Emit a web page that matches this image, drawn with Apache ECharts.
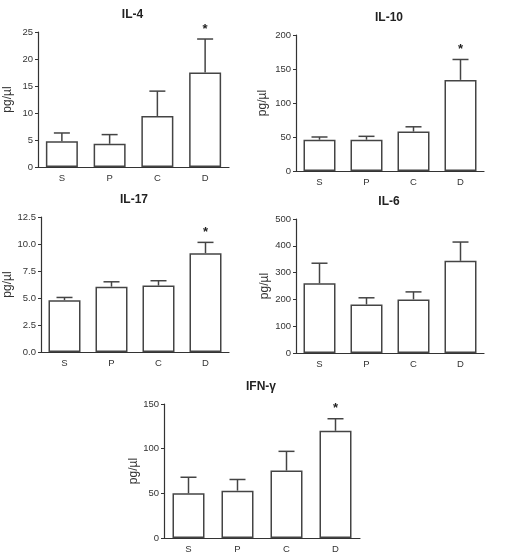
<!DOCTYPE html>
<html>
<head>
<meta charset="utf-8">
<title>Cytokines</title>
<script src="https://cdn.jsdelivr.net/npm/echarts@6/dist/echarts.min.js"></script>
<style>
  html, body { margin: 0; background: #fff; }
  #chart { width: 509px; height: 559px; }
</style>
</head>
<body>
<div id="chart"></div>
<script>
// groups on the x axis
var categories = ["S", "P", "C", "D"];

// mean values and top of error bar (mean + SEM)
var il4Mean = [4.75, 4.3, 9.45, 17.5];
var il4Err = [6.3, 6.0, 14.05, 23.7];
var il10Mean = [46, 46, 58, 134];
var il10Err = [50, 51, 65, 164];
var il17Mean = [4.8, 6.05, 6.15, 9.15];
var il17Err = [5.05, 6.5, 6.6, 10.15];
var il6Mean = [260, 181, 200, 344];
var il6Err = [335, 206, 228, 414];
var ifnMean = [50, 53, 75.5, 120];
var ifnErr = [68, 65.5, 97, 133.5];

// significance marks (*), 1 = marked
var il4Sig = [0, 0, 0, 1];
var il10Sig = [0, 0, 0, 1];
var il17Sig = [0, 0, 0, 1];
var il6Sig = [0, 0, 0, 0];
var ifnSig = [0, 0, 0, 1];

// y axis scales
var panelNames = ["IL-4", "IL-10", "IL-17", "IL-6", "IFN-\u03b3"];
var yMax = [25, 200, 12.5, 500, 150];
var yStep = [5, 50, 2.5, 100, 50];
var yDecimals = [0, 0, 1, 0, 0];

var means = [il4Mean, il10Mean, il17Mean, il6Mean, ifnMean];
var errs = [il4Err, il10Err, il17Err, il6Err, ifnErr];
var sigs = [il4Sig, il10Sig, il17Sig, il6Sig, ifnSig];

// layout of each small plot (px)
var grids = [
  { left: 38, top: 32, width: 191, height: 135 },
  { left: 296, top: 35, width: 188, height: 136 },
  { left: 41, top: 217, width: 188, height: 135 },
  { left: 296, top: 219, width: 188, height: 134 },
  { left: 164, top: 404, width: 196, height: 134 }
];
var nameGaps = [24, 27, 27, 25, 21];

var font = "'Liberation Sans', Arial, sans-serif";
var ink = "#333";

var chart = echarts.init(document.getElementById("chart"));

var titles = [], xAxes = [], yAxes = [], series = [];

grids.forEach(function (g, i) {
  titles.push({
    text: panelNames[i],
    left: g.left + g.width / 2 - 1,
    top: g.top - 23,
    padding: 0,
    textAlign: "center",
    textStyle: { fontFamily: font, fontSize: 12, fontWeight: "bold", color: "#222" }
  });

  xAxes.push({
    type: "category",
    gridIndex: i,
    data: categories,
    axisLine: { lineStyle: { color: ink, width: 1.2 } },
    axisTick: { alignWithLabel: true, length: 3, lineStyle: { color: ink } },
    axisLabel: { fontFamily: font, fontSize: 9.5, color: ink, margin: 6 }
  });

  yAxes.push({
    type: "value",
    gridIndex: i,
    min: 0,
    max: yMax[i],
    interval: yStep[i],
    name: "pg/\u00b5l",
    nameLocation: "middle",
    nameGap: nameGaps[i],
    nameTextStyle: { fontFamily: font, fontSize: 12, color: ink },
    axisLine: { show: true, lineStyle: { color: ink, width: 1.2 } },
    axisTick: { show: true, length: 3, lineStyle: { color: ink } },
    splitLine: { show: false },
    axisLabel: {
      fontFamily: font, fontSize: 9.5, color: ink, margin: 5,
      formatter: function (v) { return v.toFixed(yDecimals[i]); }
    }
  });

  series.push({
    type: "bar",
    xAxisIndex: i,
    yAxisIndex: i,
    data: means[i],
    barWidth: 32,
    itemStyle: { color: "#fff", borderColor: "#444", borderWidth: 1.5 },
    silent: true
  });

  var errData = means[i].map(function (m, k) {
    return [k, m, errs[i][k], sigs[i][k]];
  });

  series.push({
    type: "custom",
    xAxisIndex: i,
    yAxisIndex: i,
    data: errData,
    encode: { x: 0, y: 2 },
    z: 3,
    silent: true,
    renderItem: function (params, api) {
      var base = api.coord([api.value(0), api.value(1)]);
      var top = api.coord([api.value(0), api.value(2)]);
      var half = 8;
      var children = [
        {
          type: "line",
          shape: { x1: base[0], y1: base[1], x2: top[0], y2: top[1] },
          style: { stroke: "#444", lineWidth: 1.5 }
        },
        {
          type: "line",
          shape: { x1: top[0] - half, y1: top[1], x2: top[0] + half, y2: top[1] },
          style: { stroke: "#444", lineWidth: 1.5 }
        }
      ];
      if (api.value(3)) {
        children.push({
          type: "text",
          style: {
            text: "*",
            x: top[0],
            y: top[1] - 10,
            align: "center",
            verticalAlign: "middle",
            font: "bold 13px " + font,
            fill: "#222"
          }
        });
      }
      return { type: "group", children: children };
    }
  });
});

chart.setOption({
  animation: false,
  backgroundColor: "#fff",
  title: titles,
  grid: grids,
  xAxis: xAxes,
  yAxis: yAxes,
  series: series
});
</script>
</body>
</html>
